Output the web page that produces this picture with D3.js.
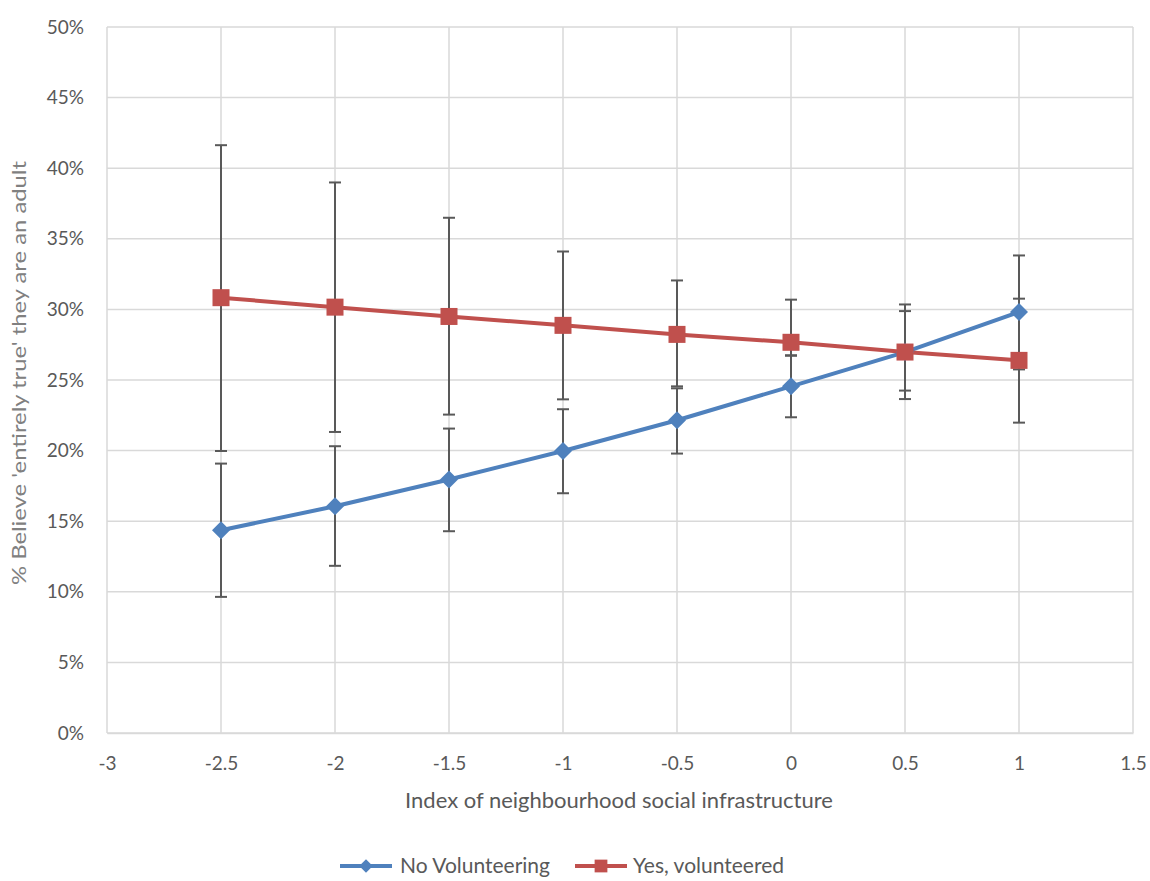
<!DOCTYPE html>
<html>
<head>
<meta charset="utf-8">
<script src="https://cdn.jsdelivr.net/npm/d3@7"></script>
<style>
  html, body { margin: 0; padding: 0; background: #ffffff; }
  svg { display: block; }
  text { font-family: Lato, "Open Sans", sans-serif; }
</style>
</head>
<body>
<svg id="chart" width="1150" height="881"></svg>
<script>
// Index of neighbourhood social infrastructure (x) and % who believe it's entirely true they are an adult
const indexValues = [-2.5, -2, -1.5, -1, -0.5, 0, 0.5, 1];

const noVolunteering     = [14.36, 16.06, 17.95, 19.97, 22.15, 24.55, 26.98, 29.81];
const noVolunteeringLow  = [9.64, 11.84, 14.29, 16.98, 19.79, 22.36, 24.25, 25.75];
const noVolunteeringHigh = [19.08, 20.31, 21.56, 22.93, 24.41, 26.75, 29.88, 33.82];

const volunteered     = [30.83, 30.16, 29.50, 28.87, 28.23, 27.67, 26.98, 26.39];
const volunteeredLow  = [19.97, 21.32, 22.55, 23.63, 24.55, 26.72, 23.65, 21.98];
const volunteeredHigh = [41.63, 38.99, 36.49, 34.10, 32.05, 30.69, 30.35, 30.76];

const xTicks = [-3, -2.5, -2, -1.5, -1, -0.5, 0, 0.5, 1, 1.5];
const yTicks = [0, 5, 10, 15, 20, 25, 30, 35, 40, 45, 50];

const seriesNames = ["No Volunteering", "Yes, volunteered"];
const seriesColors = ["#4f81bd", "#c0504d"];

const svg = d3.select("#chart");
const margin = { left: 107, right: 17, top: 27, bottom: 148 };
const W = 1150, H = 881;

const x = d3.scaleLinear().domain([-3, 1.5]).range([margin.left, W - margin.right]);
const y = d3.scaleLinear().domain([0, 50]).range([H - margin.bottom, margin.top]);

const gridColor = "#d9d9d9";
const labelColor = "#595959";

// gridlines
svg.append("g")
  .selectAll("line.h")
  .data(yTicks)
  .join("line")
  .attr("x1", x(-3)).attr("x2", x(1.5))
  .attr("y1", d => y(d)).attr("y2", d => y(d))
  .attr("stroke", gridColor).attr("stroke-width", 1.5);

svg.append("g")
  .selectAll("line.v")
  .data(xTicks)
  .join("line")
  .attr("x1", d => x(d)).attr("x2", d => x(d))
  .attr("y1", y(0)).attr("y2", y(50))
  .attr("stroke", gridColor).attr("stroke-width", 1.5);

// axes (labels only, no tick marks)
const xAxis = d3.axisBottom(x).tickValues(xTicks).tickSize(0).tickPadding(24)
  .tickFormat(d => String(d));
const gx = svg.append("g").attr("transform", `translate(0,${y(0)})`).call(xAxis);
gx.select(".domain").attr("stroke", gridColor).attr("stroke-width", 1.5);
gx.selectAll("text").attr("fill", labelColor).style("font-size", "19px")
  .style("font-family", "Lato, sans-serif");

const yAxis = d3.axisLeft(y).tickValues(yTicks).tickSize(0).tickPadding(23)
  .tickFormat(d => d + "%");
const gy = svg.append("g").attr("transform", `translate(${x(-3)},0)`).call(yAxis);
gy.select(".domain").remove();
gy.selectAll("text").attr("fill", labelColor).style("font-size", "19px")
  .style("font-family", "Lato, sans-serif");

// axis titles
svg.append("text")
  .attr("x", 619).attr("y", 808)
  .attr("text-anchor", "middle")
  .attr("fill", labelColor)
  .style("font-size", "22px")
  .text("Index of neighbourhood social infrastructure");

svg.append("text")
  .attr("transform", "translate(26,373) rotate(-90)")
  .attr("text-anchor", "middle")
  .attr("fill", "#808080")
  .attr("textLength", 424)
  .attr("lengthAdjust", "spacingAndGlyphs")
  .style("font-size", "19px")
  .text("% Believe 'entirely true' they are an adult");

// series
const series = [
  { name: seriesNames[0], color: seriesColors[0], mean: noVolunteering, low: noVolunteeringLow, high: noVolunteeringHigh, shape: "diamond" },
  { name: seriesNames[1], color: seriesColors[1], mean: volunteered, low: volunteeredLow, high: volunteeredHigh, shape: "square" }
];

const errColor = "#595959";
const capHalf = 6;

series.forEach(s => {
  const g = svg.append("g");
  indexValues.forEach((xv, i) => {
    g.append("line")
      .attr("x1", x(xv)).attr("x2", x(xv))
      .attr("y1", y(s.low[i])).attr("y2", y(s.high[i]))
      .attr("stroke", errColor).attr("stroke-width", 2);
    [s.low[i], s.high[i]].forEach(v => {
      g.append("line")
        .attr("x1", x(xv) - capHalf).attr("x2", x(xv) + capHalf)
        .attr("y1", y(v)).attr("y2", y(v))
        .attr("stroke", errColor).attr("stroke-width", 2);
    });
  });
});

const line = d3.line().x(d => x(d[0])).y(d => y(d[1]));

function drawMarker(g, shape, cx, cy, color, scale) {
  if (shape === "diamond") {
    const r = 9 * scale;
    g.append("path")
      .attr("d", `M${cx},${cy - r}L${cx + r},${cy}L${cx},${cy + r}L${cx - r},${cy}Z`)
      .attr("fill", color);
  } else {
    const h = 8.5 * scale;
    g.append("rect")
      .attr("x", cx - h).attr("y", cy - h)
      .attr("width", 2 * h).attr("height", 2 * h)
      .attr("fill", color);
  }
}

series.forEach(s => {
  const pts = indexValues.map((xv, i) => [xv, s.mean[i]]);
  svg.append("path")
    .attr("d", line(pts))
    .attr("fill", "none")
    .attr("stroke", s.color)
    .attr("stroke-width", 4)
    .attr("stroke-linejoin", "round");
});

series.forEach(s => {
  const g = svg.append("g");
  indexValues.forEach((xv, i) => drawMarker(g, s.shape, x(xv), y(s.mean[i]), s.color, 1));
});

// legend
const legendY = 866;
const legendItems = [
  { s: series[0], x0: 340, tx: 400 },
  { s: series[1], x0: 575, tx: 633 }
];
legendItems.forEach(item => {
  const g = svg.append("g");
  g.append("line")
    .attr("x1", item.x0).attr("x2", item.x0 + 52)
    .attr("y1", legendY).attr("y2", legendY)
    .attr("stroke", item.s.color).attr("stroke-width", 4);
  drawMarker(g, item.s.shape, item.x0 + 26, legendY, item.s.color, 0.75);
  g.append("text")
    .attr("x", item.tx).attr("y", legendY + 7)
    .attr("fill", labelColor)
    .style("font-size", "21px")
    .text(item.s.name);
});
</script>
</body>
</html>
